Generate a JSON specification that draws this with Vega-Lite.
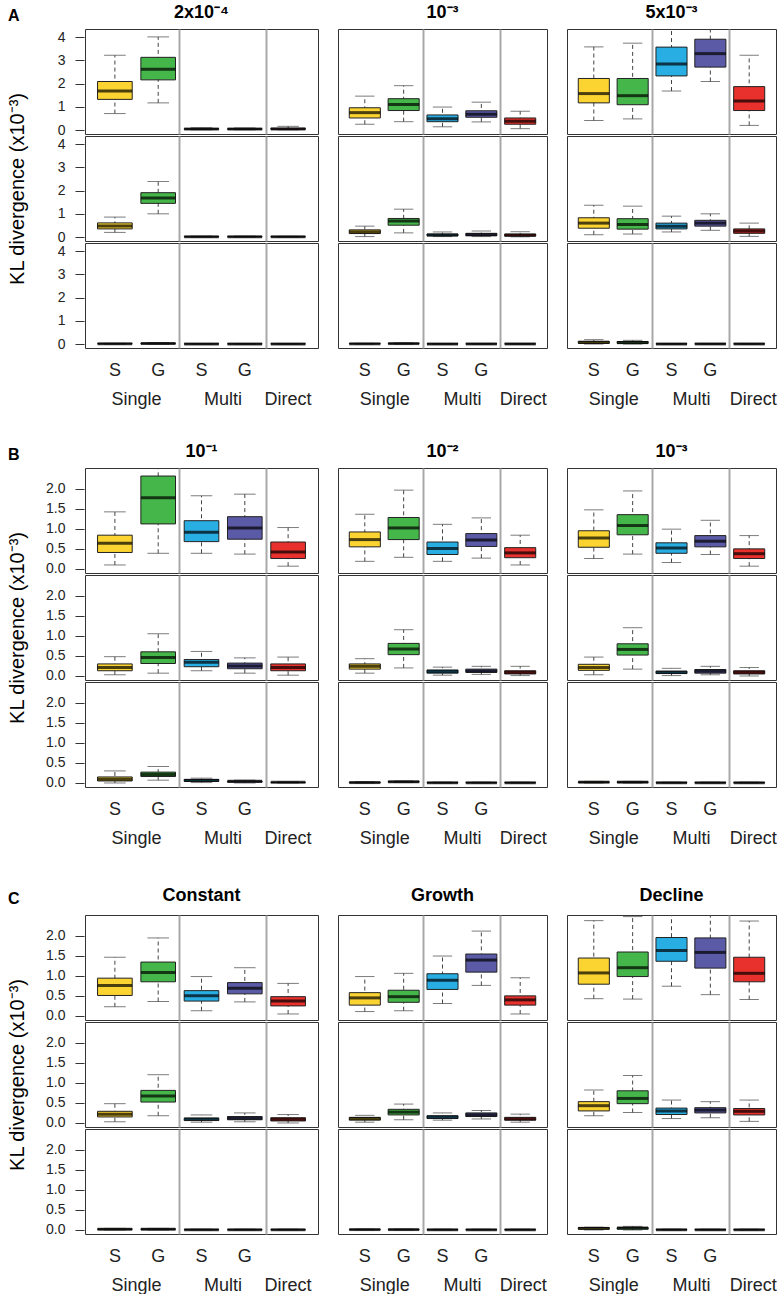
{
  "$schema": "https://vega.github.io/schema/vega-lite/v6.json",
  "padding": {"left": 7, "top": 4, "right": 0, "bottom": 0},
  "config": {
    "font": "Liberation Sans",
    "view": {"stroke": "#333", "strokeWidth": 1},
    "header": {"labelFont": "Liberation Sans", "titleFont": "Liberation Sans"}
  },
  "datasets": {
    "kl": [
      {"section":"A","cond":"2x10⁻⁴","row":1,"method":"Single S","lw":0.71,"q1":1.32,"median":1.68,"q3":2.09,"uw":3.22},
      {"section":"A","cond":"2x10⁻⁴","row":1,"method":"Single G","lw":1.17,"q1":2.16,"median":2.62,"q3":3.13,"uw":4.01},
      {"section":"A","cond":"2x10⁻⁴","row":1,"method":"Multi S","lw":0.01,"q1":0.03,"median":0.04,"q3":0.06,"uw":0.10},
      {"section":"A","cond":"2x10⁻⁴","row":1,"method":"Multi G","lw":0.01,"q1":0.03,"median":0.04,"q3":0.06,"uw":0.09},
      {"section":"A","cond":"2x10⁻⁴","row":1,"method":"Direct","lw":0.01,"q1":0.03,"median":0.05,"q3":0.08,"uw":0.16},
      {"section":"A","cond":"2x10⁻⁴","row":2,"method":"Single S","lw":0.20,"q1":0.35,"median":0.48,"q3":0.61,"uw":0.86},
      {"section":"A","cond":"2x10⁻⁴","row":2,"method":"Single G","lw":1.00,"q1":1.45,"median":1.68,"q3":1.91,"uw":2.39},
      {"section":"A","cond":"2x10⁻⁴","row":2,"method":"Multi S","lw":0,"q1":0.005,"median":0.01,"q3":0.02,"uw":0.04},
      {"section":"A","cond":"2x10⁻⁴","row":2,"method":"Multi G","lw":0,"q1":0.005,"median":0.01,"q3":0.02,"uw":0.04},
      {"section":"A","cond":"2x10⁻⁴","row":2,"method":"Direct","lw":0,"q1":0.005,"median":0.01,"q3":0.02,"uw":0.03},
      {"section":"A","cond":"2x10⁻⁴","row":3,"method":"Single S","lw":0,"q1":0.005,"median":0.01,"q3":0.02,"uw":0.03},
      {"section":"A","cond":"2x10⁻⁴","row":3,"method":"Single G","lw":0,"q1":0.01,"median":0.02,"q3":0.04,"uw":0.06},
      {"section":"A","cond":"2x10⁻⁴","row":3,"method":"Multi S","lw":0,"q1":0.002,"median":0.005,"q3":0.01,"uw":0.02},
      {"section":"A","cond":"2x10⁻⁴","row":3,"method":"Multi G","lw":0,"q1":0.002,"median":0.005,"q3":0.01,"uw":0.02},
      {"section":"A","cond":"2x10⁻⁴","row":3,"method":"Direct","lw":0,"q1":0.002,"median":0.005,"q3":0.01,"uw":0.02},

      {"section":"A","cond":"10⁻³","row":1,"method":"Single S","lw":0.25,"q1":0.52,"median":0.75,"q3":0.96,"uw":1.46},
      {"section":"A","cond":"10⁻³","row":1,"method":"Single G","lw":0.36,"q1":0.84,"median":1.10,"q3":1.35,"uw":1.91},
      {"section":"A","cond":"10⁻³","row":1,"method":"Multi S","lw":0.14,"q1":0.36,"median":0.49,"q3":0.65,"uw":0.99},
      {"section":"A","cond":"10⁻³","row":1,"method":"Multi G","lw":0.35,"q1":0.55,"median":0.68,"q3":0.83,"uw":1.20},
      {"section":"A","cond":"10⁻³","row":1,"method":"Direct","lw":0.06,"q1":0.25,"median":0.38,"q3":0.52,"uw":0.81},
      {"section":"A","cond":"10⁻³","row":2,"method":"Single S","lw":0.02,"q1":0.15,"median":0.22,"q3":0.31,"uw":0.47},
      {"section":"A","cond":"10⁻³","row":2,"method":"Single G","lw":0.18,"q1":0.51,"median":0.69,"q3":0.80,"uw":1.20},
      {"section":"A","cond":"10⁻³","row":2,"method":"Multi S","lw":0.02,"q1":0.05,"median":0.09,"q3":0.13,"uw":0.22},
      {"section":"A","cond":"10⁻³","row":2,"method":"Multi G","lw":0.02,"q1":0.06,"median":0.10,"q3":0.16,"uw":0.26},
      {"section":"A","cond":"10⁻³","row":2,"method":"Direct","lw":0.01,"q1":0.04,"median":0.08,"q3":0.13,"uw":0.23},
      {"section":"A","cond":"10⁻³","row":3,"method":"Single S","lw":0,"q1":0.005,"median":0.01,"q3":0.02,"uw":0.03},
      {"section":"A","cond":"10⁻³","row":3,"method":"Single G","lw":0,"q1":0.01,"median":0.02,"q3":0.03,"uw":0.05},
      {"section":"A","cond":"10⁻³","row":3,"method":"Multi S","lw":0,"q1":0.002,"median":0.005,"q3":0.01,"uw":0.02},
      {"section":"A","cond":"10⁻³","row":3,"method":"Multi G","lw":0,"q1":0.002,"median":0.005,"q3":0.01,"uw":0.02},
      {"section":"A","cond":"10⁻³","row":3,"method":"Direct","lw":0,"q1":0.002,"median":0.005,"q3":0.01,"uw":0.02},

      {"section":"A","cond":"5x10⁻³","row":1,"method":"Single S","lw":0.41,"q1":1.17,"median":1.57,"q3":2.22,"uw":3.58},
      {"section":"A","cond":"5x10⁻³","row":1,"method":"Single G","lw":0.48,"q1":1.09,"median":1.48,"q3":2.22,"uw":3.74},
      {"section":"A","cond":"5x10⁻³","row":1,"method":"Multi S","lw":1.68,"q1":2.33,"median":2.84,"q3":3.57,"uw":4.6},
      {"section":"A","cond":"5x10⁻³","row":1,"method":"Multi G","lw":2.09,"q1":2.71,"median":3.29,"q3":3.91,"uw":4.8},
      {"section":"A","cond":"5x10⁻³","row":1,"method":"Direct","lw":0.20,"q1":0.84,"median":1.25,"q3":1.87,"uw":3.22},
      {"section":"A","cond":"5x10⁻³","row":2,"method":"Single S","lw":0.10,"q1":0.38,"median":0.60,"q3":0.83,"uw":1.37},
      {"section":"A","cond":"5x10⁻³","row":2,"method":"Single G","lw":0.13,"q1":0.34,"median":0.54,"q3":0.79,"uw":1.33},
      {"section":"A","cond":"5x10⁻³","row":2,"method":"Multi S","lw":0.22,"q1":0.35,"median":0.47,"q3":0.60,"uw":0.90},
      {"section":"A","cond":"5x10⁻³","row":2,"method":"Multi G","lw":0.29,"q1":0.47,"median":0.60,"q3":0.72,"uw":1.00},
      {"section":"A","cond":"5x10⁻³","row":2,"method":"Direct","lw":0.03,"q1":0.16,"median":0.26,"q3":0.35,"uw":0.60},
      {"section":"A","cond":"5x10⁻³","row":3,"method":"Single S","lw":0,"q1":0.03,"median":0.07,"q3":0.12,"uw":0.19},
      {"section":"A","cond":"5x10⁻³","row":3,"method":"Single G","lw":0,"q1":0.03,"median":0.06,"q3":0.11,"uw":0.16},
      {"section":"A","cond":"5x10⁻³","row":3,"method":"Multi S","lw":0,"q1":0.002,"median":0.005,"q3":0.01,"uw":0.02},
      {"section":"A","cond":"5x10⁻³","row":3,"method":"Multi G","lw":0,"q1":0.002,"median":0.005,"q3":0.01,"uw":0.02},
      {"section":"A","cond":"5x10⁻³","row":3,"method":"Direct","lw":0,"q1":0.002,"median":0.005,"q3":0.01,"uw":0.02},

      {"section":"B","cond":"10⁻¹","row":1,"method":"Single S","lw":0.10,"q1":0.41,"median":0.64,"q3":0.84,"uw":1.42},
      {"section":"B","cond":"10⁻¹","row":1,"method":"Single G","lw":0.39,"q1":1.12,"median":1.77,"q3":2.31,"uw":2.7},
      {"section":"B","cond":"10⁻¹","row":1,"method":"Multi S","lw":0.39,"q1":0.68,"median":0.91,"q3":1.20,"uw":1.82},
      {"section":"B","cond":"10⁻¹","row":1,"method":"Multi G","lw":0.37,"q1":0.74,"median":1.02,"q3":1.30,"uw":1.86},
      {"section":"B","cond":"10⁻¹","row":1,"method":"Direct","lw":0.07,"q1":0.26,"median":0.42,"q3":0.67,"uw":1.03},
      {"section":"B","cond":"10⁻¹","row":2,"method":"Single S","lw":0.03,"q1":0.13,"median":0.21,"q3":0.30,"uw":0.48},
      {"section":"B","cond":"10⁻¹","row":2,"method":"Single G","lw":0.07,"q1":0.31,"median":0.46,"q3":0.60,"uw":1.05},
      {"section":"B","cond":"10⁻¹","row":2,"method":"Multi S","lw":0.13,"q1":0.23,"median":0.34,"q3":0.41,"uw":0.61},
      {"section":"B","cond":"10⁻¹","row":2,"method":"Multi G","lw":0.07,"q1":0.18,"median":0.25,"q3":0.32,"uw":0.45},
      {"section":"B","cond":"10⁻¹","row":2,"method":"Direct","lw":0.02,"q1":0.13,"median":0.21,"q3":0.30,"uw":0.47},
      {"section":"B","cond":"10⁻¹","row":3,"method":"Single S","lw":0,"q1":0.05,"median":0.09,"q3":0.15,"uw":0.30},
      {"section":"B","cond":"10⁻¹","row":3,"method":"Single G","lw":0.07,"q1":0.16,"median":0.21,"q3":0.27,"uw":0.41},
      {"section":"B","cond":"10⁻¹","row":3,"method":"Multi S","lw":0.01,"q1":0.04,"median":0.06,"q3":0.09,"uw":0.12},
      {"section":"B","cond":"10⁻¹","row":3,"method":"Multi G","lw":0,"q1":0.02,"median":0.04,"q3":0.05,"uw":0.07},
      {"section":"B","cond":"10⁻¹","row":3,"method":"Direct","lw":0,"q1":0.01,"median":0.015,"q3":0.02,"uw":0.03},

      {"section":"B","cond":"10⁻²","row":1,"method":"Single S","lw":0.19,"q1":0.55,"median":0.73,"q3":0.92,"uw":1.36},
      {"section":"B","cond":"10⁻²","row":1,"method":"Single G","lw":0.29,"q1":0.73,"median":1.02,"q3":1.28,"uw":1.96},
      {"section":"B","cond":"10⁻²","row":1,"method":"Multi S","lw":0.19,"q1":0.36,"median":0.51,"q3":0.67,"uw":1.11},
      {"section":"B","cond":"10⁻²","row":1,"method":"Multi G","lw":0.27,"q1":0.56,"median":0.72,"q3":0.88,"uw":1.27},
      {"section":"B","cond":"10⁻²","row":1,"method":"Direct","lw":0.10,"q1":0.28,"median":0.40,"q3":0.53,"uw":0.84},
      {"section":"B","cond":"10⁻²","row":2,"method":"Single S","lw":0.07,"q1":0.17,"median":0.24,"q3":0.30,"uw":0.43},
      {"section":"B","cond":"10⁻²","row":2,"method":"Single G","lw":0.20,"q1":0.53,"median":0.67,"q3":0.81,"uw":1.15},
      {"section":"B","cond":"10⁻²","row":2,"method":"Multi S","lw":0.02,"q1":0.07,"median":0.11,"q3":0.15,"uw":0.22},
      {"section":"B","cond":"10⁻²","row":2,"method":"Multi G","lw":0.04,"q1":0.09,"median":0.12,"q3":0.17,"uw":0.24},
      {"section":"B","cond":"10⁻²","row":2,"method":"Direct","lw":0.01,"q1":0.05,"median":0.09,"q3":0.13,"uw":0.24},
      {"section":"B","cond":"10⁻²","row":3,"method":"Single S","lw":0,"q1":0.005,"median":0.01,"q3":0.02,"uw":0.03},
      {"section":"B","cond":"10⁻²","row":3,"method":"Single G","lw":0.01,"q1":0.02,"median":0.03,"q3":0.04,"uw":0.05},
      {"section":"B","cond":"10⁻²","row":3,"method":"Multi S","lw":0,"q1":0.002,"median":0.005,"q3":0.01,"uw":0.02},
      {"section":"B","cond":"10⁻²","row":3,"method":"Multi G","lw":0,"q1":0.002,"median":0.005,"q3":0.01,"uw":0.02},
      {"section":"B","cond":"10⁻²","row":3,"method":"Direct","lw":0,"q1":0.002,"median":0.005,"q3":0.01,"uw":0.02},

      {"section":"B","cond":"10⁻³","row":1,"method":"Single S","lw":0.26,"q1":0.54,"median":0.77,"q3":0.95,"uw":1.47},
      {"section":"B","cond":"10⁻³","row":1,"method":"Single G","lw":0.37,"q1":0.85,"median":1.08,"q3":1.35,"uw":1.94},
      {"section":"B","cond":"10⁻³","row":1,"method":"Multi S","lw":0.16,"q1":0.39,"median":0.52,"q3":0.65,"uw":0.99},
      {"section":"B","cond":"10⁻³","row":1,"method":"Multi G","lw":0.36,"q1":0.55,"median":0.69,"q3":0.83,"uw":1.21},
      {"section":"B","cond":"10⁻³","row":1,"method":"Direct","lw":0.07,"q1":0.26,"median":0.38,"q3":0.50,"uw":0.83},
      {"section":"B","cond":"10⁻³","row":2,"method":"Single S","lw":0.03,"q1":0.14,"median":0.21,"q3":0.29,"uw":0.47},
      {"section":"B","cond":"10⁻³","row":2,"method":"Single G","lw":0.17,"q1":0.52,"median":0.66,"q3":0.80,"uw":1.20},
      {"section":"B","cond":"10⁻³","row":2,"method":"Multi S","lw":0.01,"q1":0.06,"median":0.09,"q3":0.12,"uw":0.19},
      {"section":"B","cond":"10⁻³","row":2,"method":"Multi G","lw":0.03,"q1":0.07,"median":0.12,"q3":0.16,"uw":0.24},
      {"section":"B","cond":"10⁻³","row":2,"method":"Direct","lw":0,"q1":0.05,"median":0.09,"q3":0.13,"uw":0.21},
      {"section":"B","cond":"10⁻³","row":3,"method":"Single S","lw":0,"q1":0.01,"median":0.02,"q3":0.03,"uw":0.04},
      {"section":"B","cond":"10⁻³","row":3,"method":"Single G","lw":0,"q1":0.01,"median":0.02,"q3":0.03,"uw":0.04},
      {"section":"B","cond":"10⁻³","row":3,"method":"Multi S","lw":0,"q1":0.002,"median":0.005,"q3":0.01,"uw":0.02},
      {"section":"B","cond":"10⁻³","row":3,"method":"Multi G","lw":0,"q1":0.002,"median":0.005,"q3":0.01,"uw":0.02},
      {"section":"B","cond":"10⁻³","row":3,"method":"Direct","lw":0,"q1":0.002,"median":0.005,"q3":0.01,"uw":0.02},

      {"section":"C","cond":"Constant","row":1,"method":"Single S","lw":0.23,"q1":0.51,"median":0.76,"q3":0.94,"uw":1.46},
      {"section":"C","cond":"Constant","row":1,"method":"Single G","lw":0.36,"q1":0.85,"median":1.08,"q3":1.34,"uw":1.94},
      {"section":"C","cond":"Constant","row":1,"method":"Multi S","lw":0.13,"q1":0.37,"median":0.50,"q3":0.63,"uw":0.98},
      {"section":"C","cond":"Constant","row":1,"method":"Multi G","lw":0.35,"q1":0.55,"median":0.69,"q3":0.83,"uw":1.20},
      {"section":"C","cond":"Constant","row":1,"method":"Direct","lw":0.05,"q1":0.25,"median":0.37,"q3":0.48,"uw":0.81},
      {"section":"C","cond":"Constant","row":2,"method":"Single S","lw":0.03,"q1":0.15,"median":0.22,"q3":0.29,"uw":0.48},
      {"section":"C","cond":"Constant","row":2,"method":"Single G","lw":0.18,"q1":0.52,"median":0.67,"q3":0.81,"uw":1.20},
      {"section":"C","cond":"Constant","row":2,"method":"Multi S","lw":0.02,"q1":0.06,"median":0.10,"q3":0.12,"uw":0.20},
      {"section":"C","cond":"Constant","row":2,"method":"Multi G","lw":0.03,"q1":0.08,"median":0.12,"q3":0.16,"uw":0.25},
      {"section":"C","cond":"Constant","row":2,"method":"Direct","lw":0,"q1":0.05,"median":0.09,"q3":0.13,"uw":0.21},
      {"section":"C","cond":"Constant","row":3,"method":"Single S","lw":0,"q1":0.01,"median":0.02,"q3":0.03,"uw":0.04},
      {"section":"C","cond":"Constant","row":3,"method":"Single G","lw":0,"q1":0.01,"median":0.02,"q3":0.03,"uw":0.04},
      {"section":"C","cond":"Constant","row":3,"method":"Multi S","lw":0,"q1":0.002,"median":0.005,"q3":0.01,"uw":0.02},
      {"section":"C","cond":"Constant","row":3,"method":"Multi G","lw":0,"q1":0.002,"median":0.005,"q3":0.01,"uw":0.02},
      {"section":"C","cond":"Constant","row":3,"method":"Direct","lw":0,"q1":0.002,"median":0.005,"q3":0.01,"uw":0.02},

      {"section":"C","cond":"Growth","row":1,"method":"Single S","lw":0.11,"q1":0.27,"median":0.45,"q3":0.58,"uw":0.98},
      {"section":"C","cond":"Growth","row":1,"method":"Single G","lw":0.13,"q1":0.34,"median":0.48,"q3":0.64,"uw":1.06},
      {"section":"C","cond":"Growth","row":1,"method":"Multi S","lw":0.31,"q1":0.66,"median":0.89,"q3":1.05,"uw":1.49},
      {"section":"C","cond":"Growth","row":1,"method":"Multi G","lw":0.76,"q1":1.09,"median":1.39,"q3":1.54,"uw":2.11},
      {"section":"C","cond":"Growth","row":1,"method":"Direct","lw":0.05,"q1":0.27,"median":0.40,"q3":0.50,"uw":0.95},
      {"section":"C","cond":"Growth","row":2,"method":"Single S","lw":0.02,"q1":0.07,"median":0.11,"q3":0.14,"uw":0.19},
      {"section":"C","cond":"Growth","row":2,"method":"Single G","lw":0.08,"q1":0.20,"median":0.27,"q3":0.34,"uw":0.47},
      {"section":"C","cond":"Growth","row":2,"method":"Multi S","lw":0.07,"q1":0.11,"median":0.15,"q3":0.18,"uw":0.25},
      {"section":"C","cond":"Growth","row":2,"method":"Multi G","lw":0.10,"q1":0.16,"median":0.20,"q3":0.25,"uw":0.31},
      {"section":"C","cond":"Growth","row":2,"method":"Direct","lw":0.02,"q1":0.07,"median":0.10,"q3":0.14,"uw":0.22},
      {"section":"C","cond":"Growth","row":3,"method":"Single S","lw":0,"q1":0.005,"median":0.01,"q3":0.015,"uw":0.02},
      {"section":"C","cond":"Growth","row":3,"method":"Single G","lw":0,"q1":0.005,"median":0.01,"q3":0.015,"uw":0.02},
      {"section":"C","cond":"Growth","row":3,"method":"Multi S","lw":0,"q1":0.002,"median":0.005,"q3":0.01,"uw":0.02},
      {"section":"C","cond":"Growth","row":3,"method":"Multi G","lw":0,"q1":0.002,"median":0.005,"q3":0.01,"uw":0.02},
      {"section":"C","cond":"Growth","row":3,"method":"Direct","lw":0,"q1":0.002,"median":0.005,"q3":0.01,"uw":0.02},

      {"section":"C","cond":"Decline","row":1,"method":"Single S","lw":0.43,"q1":0.79,"median":1.07,"q3":1.44,"uw":2.37},
      {"section":"C","cond":"Decline","row":1,"method":"Single G","lw":0.42,"q1":0.98,"median":1.20,"q3":1.59,"uw":2.47},
      {"section":"C","cond":"Decline","row":1,"method":"Multi S","lw":0.74,"q1":1.36,"median":1.63,"q3":1.95,"uw":2.7},
      {"section":"C","cond":"Decline","row":1,"method":"Multi G","lw":0.53,"q1":1.19,"median":1.58,"q3":1.94,"uw":2.7},
      {"section":"C","cond":"Decline","row":1,"method":"Direct","lw":0.41,"q1":0.85,"median":1.06,"q3":1.46,"uw":2.36},
      {"section":"C","cond":"Decline","row":2,"method":"Single S","lw":0.18,"q1":0.30,"median":0.43,"q3":0.53,"uw":0.82},
      {"section":"C","cond":"Decline","row":2,"method":"Single G","lw":0.26,"q1":0.48,"median":0.61,"q3":0.80,"uw":1.18},
      {"section":"C","cond":"Decline","row":2,"method":"Multi S","lw":0.11,"q1":0.21,"median":0.30,"q3":0.37,"uw":0.57},
      {"section":"C","cond":"Decline","row":2,"method":"Multi G","lw":0.13,"q1":0.25,"median":0.32,"q3":0.38,"uw":0.53},
      {"section":"C","cond":"Decline","row":2,"method":"Direct","lw":0.04,"q1":0.20,"median":0.29,"q3":0.36,"uw":0.57},
      {"section":"C","cond":"Decline","row":3,"method":"Single S","lw":0,"q1":0.02,"median":0.04,"q3":0.06,"uw":0.07},
      {"section":"C","cond":"Decline","row":3,"method":"Single G","lw":0,"q1":0.02,"median":0.05,"q3":0.06,"uw":0.09},
      {"section":"C","cond":"Decline","row":3,"method":"Multi S","lw":0,"q1":0.002,"median":0.005,"q3":0.01,"uw":0.02},
      {"section":"C","cond":"Decline","row":3,"method":"Multi G","lw":0,"q1":0.002,"median":0.005,"q3":0.01,"uw":0.02},
      {"section":"C","cond":"Decline","row":3,"method":"Direct","lw":0,"q1":0.002,"median":0.005,"q3":0.01,"uw":0.02}
    ]
  },
  "spacing": 35,
  "vconcat": [
    {
      "title": {"text": "A", "anchor": "start", "fontSize": 16, "fontWeight": "bold", "offset": -20},
      "spacing": 18,
      "hconcat": [
        {
          "data": {"name": "kl"},
          "transform": [{"filter": "datum.section == 'A' && datum.cond == '2x10⁻⁴'"}],
          "facet": {
            "row": {"field": "row", "type": "ordinal", "header": {"labels": false, "title": "KL divergence (x10⁻³)", "titleFontSize": 20, "titleFontWeight": "normal", "titlePadding": 7}},
            "column": {"field": "cond", "type": "nominal", "header": {"title": null, "labelFontSize": 18, "labelFontWeight": "bold", "labelPadding": 6}}
          },
          "spacing": {"row": 0, "column": 0},
          "spec": {
            "width": 233, "height": 105,
            "encoding": {"x": {"field": "method", "type": "nominal", "scale": {"domain": ["Single S","Single G","Multi S","Multi G","Direct"], "paddingInner": 0, "paddingOuter": 0.19}, "axis": null}},
            "layer": [
              {"mark": {"type": "rule", "strokeDash": [4,3], "color": "#444", "clip": true},
               "encoding": {
                 "x": {"field": "method", "type": "nominal", "scale": {"domain": ["Single S","Single G","Multi S","Multi G","Direct"], "paddingInner": 0, "paddingOuter": 0.19},
                       "axis": {"orient": "bottom", "title": null, "ticks": false, "domain": false, "grid": false, "labelAngle": 0, "labelFontSize": 18, "labelPadding": 12, "labelColor": "#222", "labelExpr": "datum.value == 'Direct' ? '' : (indexof(datum.value, ' S') > 0 ? 'S' : 'G')"}},
                 "y": {"field": "lw", "type": "quantitative", "scale": {"domain": [-0.17, 4.35], "nice": false, "zero": false}, "axis": {"title": null, "values": [0,1,2,3,4], "tickSize": 9, "labelPadding": 10, "labelFontSize": 14, "domain": false, "grid": false, "tickColor": "#333", "labelColor": "#222", "minExtent": 39}},
                 "y2": {"field": "uw"}}},
              {"mark": {"type": "tick", "color": "#444", "thickness": 1, "size": 21.6, "clip": true},
               "encoding": {"y": {"field": "lw", "type": "quantitative", "scale": {"domain": [-0.17, 4.35], "nice": false, "zero": false}, "axis": {"title": null, "values": [0,1,2,3,4], "tickSize": 9, "labelPadding": 10, "labelFontSize": 14, "domain": false, "grid": false, "tickColor": "#333", "labelColor": "#222", "minExtent": 39}}}},
              {"mark": {"type": "tick", "color": "#444", "thickness": 1, "size": 21.6, "clip": true},
               "encoding": {
                 "x": {"field": "method", "type": "nominal", "scale": {"domain": ["Single S","Single G","Multi S","Multi G","Direct"], "paddingInner": 0, "paddingOuter": 0.19},
                       "axis": {"orient": "bottom", "title": null, "ticks": false, "domain": false, "grid": true, "bandPosition": 0, "gridColor": "#a8a8a8", "gridWidth": 2, "gridOpacity": {"condition": {"test": "datum.value == 'Multi S' || datum.value == 'Direct'", "value": 1}, "value": 0}, "labelAngle": 0, "labelFontSize": 18, "labelPadding": 41, "labelColor": "#222", "labelOffset": {"condition": {"test": "datum.value == 'Single S' || datum.value == 'Multi S'", "value": 21.6}, "value": 0}, "labelExpr": "datum.value == 'Single S' ? 'Single' : datum.value == 'Multi S' ? 'Multi' : datum.value == 'Direct' ? 'Direct' : ''"}},
                 "y": {"field": "uw", "type": "quantitative", "scale": {"domain": [-0.17, 4.35], "nice": false, "zero": false}, "axis": {"title": null, "values": [0,1,2,3,4], "tickSize": 9, "labelPadding": 10, "labelFontSize": 14, "domain": false, "grid": false, "tickColor": "#333", "labelColor": "#222", "minExtent": 39}}}},
              {"mark": {"type": "bar", "width": {"band": 0.8}, "stroke": "#222", "strokeWidth": 1, "clip": true},
               "encoding": {
                 "y": {"field": "q1", "type": "quantitative", "scale": {"domain": [-0.17, 4.35], "nice": false, "zero": false}, "axis": {"title": null, "values": [0,1,2,3,4], "tickSize": 9, "labelPadding": 10, "labelFontSize": 14, "domain": false, "grid": false, "tickColor": "#333", "labelColor": "#222", "minExtent": 39}},
                 "y2": {"field": "q3"},
                 "color": {"field": "method", "type": "nominal", "scale": {"domain": ["Single S","Single G","Multi S","Multi G","Direct"], "range": ["#FBD431","#45B649","#28AEE3","#5B5AA6","#E8302C"]}, "legend": null}}},
              {"mark": {"type": "tick", "color": "#000", "thickness": 3, "size": 34.6, "clip": true},
               "encoding": {"y": {"field": "median", "type": "quantitative", "scale": {"domain": [-0.17, 4.35], "nice": false, "zero": false}, "axis": {"title": null, "values": [0,1,2,3,4], "tickSize": 9, "labelPadding": 10, "labelFontSize": 14, "domain": false, "grid": false, "tickColor": "#333", "labelColor": "#222", "minExtent": 39}}}}
            ],
            "resolve": {"axis": {"x": "independent"}}
          }
        },
        {
          "data": {"name": "kl"},
          "transform": [{"filter": "datum.section == 'A' && datum.cond == '10⁻³'"}],
          "facet": {
            "row": {"field": "row", "type": "ordinal", "header": {"labels": false, "title": null}},
            "column": {"field": "cond", "type": "nominal", "header": {"title": null, "labelFontSize": 18, "labelFontWeight": "bold", "labelPadding": 6}}
          },
          "spacing": {"row": 0, "column": 0},
          "spec": {
            "width": 209, "height": 105,
            "encoding": {"x": {"field": "method", "type": "nominal", "scale": {"domain": ["Single S","Single G","Multi S","Multi G","Direct"], "paddingInner": 0, "paddingOuter": 0.19}, "axis": null}},
            "layer": [
              {"mark": {"type": "rule", "strokeDash": [4,3], "color": "#444", "clip": true},
               "encoding": {
                 "x": {"field": "method", "type": "nominal", "scale": {"domain": ["Single S","Single G","Multi S","Multi G","Direct"], "paddingInner": 0, "paddingOuter": 0.19},
                       "axis": {"orient": "bottom", "title": null, "ticks": false, "domain": false, "grid": false, "labelAngle": 0, "labelFontSize": 18, "labelPadding": 12, "labelColor": "#222", "labelExpr": "datum.value == 'Direct' ? '' : (indexof(datum.value, ' S') > 0 ? 'S' : 'G')"}},
                 "y": {"field": "lw", "type": "quantitative", "scale": {"domain": [-0.17, 4.35], "nice": false, "zero": false}, "axis": null},
                 "y2": {"field": "uw"}}},
              {"mark": {"type": "tick", "color": "#444", "thickness": 1, "size": 19.4, "clip": true},
               "encoding": {"y": {"field": "lw", "type": "quantitative", "scale": {"domain": [-0.17, 4.35], "nice": false, "zero": false}, "axis": null}}},
              {"mark": {"type": "tick", "color": "#444", "thickness": 1, "size": 19.4, "clip": true},
               "encoding": {
                 "x": {"field": "method", "type": "nominal", "scale": {"domain": ["Single S","Single G","Multi S","Multi G","Direct"], "paddingInner": 0, "paddingOuter": 0.19},
                       "axis": {"orient": "bottom", "title": null, "ticks": false, "domain": false, "grid": true, "bandPosition": 0, "gridColor": "#a8a8a8", "gridWidth": 2, "gridOpacity": {"condition": {"test": "datum.value == 'Multi S' || datum.value == 'Direct'", "value": 1}, "value": 0}, "labelAngle": 0, "labelFontSize": 18, "labelPadding": 41, "labelColor": "#222", "labelOffset": {"condition": {"test": "datum.value == 'Single S' || datum.value == 'Multi S'", "value": 19.9}, "value": 3}, "labelExpr": "datum.value == 'Single S' ? 'Single' : datum.value == 'Multi S' ? 'Multi' : datum.value == 'Direct' ? 'Direct' : ''"}},
                 "y": {"field": "uw", "type": "quantitative", "scale": {"domain": [-0.17, 4.35], "nice": false, "zero": false}, "axis": null}}},
              {"mark": {"type": "bar", "width": {"band": 0.8}, "stroke": "#222", "strokeWidth": 1, "clip": true},
               "encoding": {
                 "y": {"field": "q1", "type": "quantitative", "scale": {"domain": [-0.17, 4.35], "nice": false, "zero": false}, "axis": null},
                 "y2": {"field": "q3"},
                 "color": {"field": "method", "type": "nominal", "scale": {"domain": ["Single S","Single G","Multi S","Multi G","Direct"], "range": ["#FBD431","#45B649","#28AEE3","#5B5AA6","#E8302C"]}, "legend": null}}},
              {"mark": {"type": "tick", "color": "#000", "thickness": 3, "size": 31.1, "clip": true},
               "encoding": {"y": {"field": "median", "type": "quantitative", "scale": {"domain": [-0.17, 4.35], "nice": false, "zero": false}, "axis": null}}}
            ],
            "resolve": {"axis": {"x": "independent"}}
          }
        },
        {
          "data": {"name": "kl"},
          "transform": [{"filter": "datum.section == 'A' && datum.cond == '5x10⁻³'"}],
          "facet": {
            "row": {"field": "row", "type": "ordinal", "header": {"labels": false, "title": null}},
            "column": {"field": "cond", "type": "nominal", "header": {"title": null, "labelFontSize": 18, "labelFontWeight": "bold", "labelPadding": 6}}
          },
          "spacing": {"row": 0, "column": 0},
          "spec": {
            "width": 209, "height": 105,
            "encoding": {"x": {"field": "method", "type": "nominal", "scale": {"domain": ["Single S","Single G","Multi S","Multi G","Direct"], "paddingInner": 0, "paddingOuter": 0.19}, "axis": null}},
            "layer": [
              {"mark": {"type": "rule", "strokeDash": [4,3], "color": "#444", "clip": true},
               "encoding": {
                 "x": {"field": "method", "type": "nominal", "scale": {"domain": ["Single S","Single G","Multi S","Multi G","Direct"], "paddingInner": 0, "paddingOuter": 0.19},
                       "axis": {"orient": "bottom", "title": null, "ticks": false, "domain": false, "grid": false, "labelAngle": 0, "labelFontSize": 18, "labelPadding": 12, "labelColor": "#222", "labelExpr": "datum.value == 'Direct' ? '' : (indexof(datum.value, ' S') > 0 ? 'S' : 'G')"}},
                 "y": {"field": "lw", "type": "quantitative", "scale": {"domain": [-0.17, 4.35], "nice": false, "zero": false}, "axis": null},
                 "y2": {"field": "uw"}}},
              {"mark": {"type": "tick", "color": "#444", "thickness": 1, "size": 19.4, "clip": true},
               "encoding": {"y": {"field": "lw", "type": "quantitative", "scale": {"domain": [-0.17, 4.35], "nice": false, "zero": false}, "axis": null}}},
              {"mark": {"type": "tick", "color": "#444", "thickness": 1, "size": 19.4, "clip": true},
               "encoding": {
                 "x": {"field": "method", "type": "nominal", "scale": {"domain": ["Single S","Single G","Multi S","Multi G","Direct"], "paddingInner": 0, "paddingOuter": 0.19},
                       "axis": {"orient": "bottom", "title": null, "ticks": false, "domain": false, "grid": true, "bandPosition": 0, "gridColor": "#a8a8a8", "gridWidth": 2, "gridOpacity": {"condition": {"test": "datum.value == 'Multi S' || datum.value == 'Direct'", "value": 1}, "value": 0}, "labelAngle": 0, "labelFontSize": 18, "labelPadding": 41, "labelColor": "#222", "labelOffset": {"condition": {"test": "datum.value == 'Single S' || datum.value == 'Multi S'", "value": 19.9}, "value": 4}, "labelExpr": "datum.value == 'Single S' ? 'Single' : datum.value == 'Multi S' ? 'Multi' : datum.value == 'Direct' ? 'Direct' : ''"}},
                 "y": {"field": "uw", "type": "quantitative", "scale": {"domain": [-0.17, 4.35], "nice": false, "zero": false}, "axis": null}}},
              {"mark": {"type": "bar", "width": {"band": 0.8}, "stroke": "#222", "strokeWidth": 1, "clip": true},
               "encoding": {
                 "y": {"field": "q1", "type": "quantitative", "scale": {"domain": [-0.17, 4.35], "nice": false, "zero": false}, "axis": null},
                 "y2": {"field": "q3"},
                 "color": {"field": "method", "type": "nominal", "scale": {"domain": ["Single S","Single G","Multi S","Multi G","Direct"], "range": ["#FBD431","#45B649","#28AEE3","#5B5AA6","#E8302C"]}, "legend": null}}},
              {"mark": {"type": "tick", "color": "#000", "thickness": 3, "size": 31.1, "clip": true},
               "encoding": {"y": {"field": "median", "type": "quantitative", "scale": {"domain": [-0.17, 4.35], "nice": false, "zero": false}, "axis": null}}}
            ],
            "resolve": {"axis": {"x": "independent"}}
          }
        }
      ]
    },
    {
      "spacing": 40,
      "vconcat": [
        {
          "title": {"text": "B", "anchor": "start", "fontSize": 16, "fontWeight": "bold", "offset": -20},
          "spacing": 18,
          "hconcat": [
            {
              "data": {"name": "kl"},
              "transform": [{"filter": "datum.section == 'B' && datum.cond == '10⁻¹'"}],
              "facet": {
                "row": {"field": "row", "type": "ordinal", "header": {"labels": false, "title": "KL divergence (x10⁻³)", "titleFontSize": 20, "titleFontWeight": "normal", "titlePadding": 7}},
                "column": {"field": "cond", "type": "nominal", "header": {"title": null, "labelFontSize": 18, "labelFontWeight": "bold", "labelPadding": 6}}
              },
              "spacing": {"row": 0, "column": 0},
              "spec": {
                "width": 233, "height": 105,
                "encoding": {"x": {"field": "method", "type": "nominal", "scale": {"domain": ["Single S","Single G","Multi S","Multi G","Direct"], "paddingInner": 0, "paddingOuter": 0.19}, "axis": null}},
                "layer": [
                  {"mark": {"type": "rule", "strokeDash": [4,3], "color": "#444", "clip": true},
                   "encoding": {
                     "x": {"field": "method", "type": "nominal", "scale": {"domain": ["Single S","Single G","Multi S","Multi G","Direct"], "paddingInner": 0, "paddingOuter": 0.19},
                           "axis": {"orient": "bottom", "title": null, "ticks": false, "domain": false, "grid": false, "labelAngle": 0, "labelFontSize": 18, "labelPadding": 12, "labelColor": "#222", "labelExpr": "datum.value == 'Direct' ? '' : (indexof(datum.value, ' S') > 0 ? 'S' : 'G')"}},
                     "y": {"field": "lw", "type": "quantitative", "scale": {"domain": [-0.1, 2.51], "nice": false, "zero": false}, "axis": {"title": null, "values": [0,0.5,1,1.5,2], "format": ".1f", "tickSize": 9, "labelPadding": 10, "labelFontSize": 14, "domain": false, "grid": false, "tickColor": "#333", "labelColor": "#222", "minExtent": 39}},
                     "y2": {"field": "uw"}}},
                  {"mark": {"type": "tick", "color": "#444", "thickness": 1, "size": 21.6, "clip": true},
                   "encoding": {"y": {"field": "lw", "type": "quantitative", "scale": {"domain": [-0.1, 2.51], "nice": false, "zero": false}, "axis": {"title": null, "values": [0,0.5,1,1.5,2], "format": ".1f", "tickSize": 9, "labelPadding": 10, "labelFontSize": 14, "domain": false, "grid": false, "tickColor": "#333", "labelColor": "#222", "minExtent": 39}}}},
                  {"mark": {"type": "tick", "color": "#444", "thickness": 1, "size": 21.6, "clip": true},
                   "encoding": {
                     "x": {"field": "method", "type": "nominal", "scale": {"domain": ["Single S","Single G","Multi S","Multi G","Direct"], "paddingInner": 0, "paddingOuter": 0.19},
                           "axis": {"orient": "bottom", "title": null, "ticks": false, "domain": false, "grid": true, "bandPosition": 0, "gridColor": "#a8a8a8", "gridWidth": 2, "gridOpacity": {"condition": {"test": "datum.value == 'Multi S' || datum.value == 'Direct'", "value": 1}, "value": 0}, "labelAngle": 0, "labelFontSize": 18, "labelPadding": 41, "labelColor": "#222", "labelOffset": {"condition": {"test": "datum.value == 'Single S' || datum.value == 'Multi S'", "value": 21.6}, "value": 0}, "labelExpr": "datum.value == 'Single S' ? 'Single' : datum.value == 'Multi S' ? 'Multi' : datum.value == 'Direct' ? 'Direct' : ''"}},
                     "y": {"field": "uw", "type": "quantitative", "scale": {"domain": [-0.1, 2.51], "nice": false, "zero": false}, "axis": {"title": null, "values": [0,0.5,1,1.5,2], "format": ".1f", "tickSize": 9, "labelPadding": 10, "labelFontSize": 14, "domain": false, "grid": false, "tickColor": "#333", "labelColor": "#222", "minExtent": 39}}}},
                  {"mark": {"type": "bar", "width": {"band": 0.8}, "stroke": "#222", "strokeWidth": 1, "clip": true},
                   "encoding": {
                     "y": {"field": "q1", "type": "quantitative", "scale": {"domain": [-0.1, 2.51], "nice": false, "zero": false}, "axis": {"title": null, "values": [0,0.5,1,1.5,2], "format": ".1f", "tickSize": 9, "labelPadding": 10, "labelFontSize": 14, "domain": false, "grid": false, "tickColor": "#333", "labelColor": "#222", "minExtent": 39}},
                     "y2": {"field": "q3"},
                     "color": {"field": "method", "type": "nominal", "scale": {"domain": ["Single S","Single G","Multi S","Multi G","Direct"], "range": ["#FBD431","#45B649","#28AEE3","#5B5AA6","#E8302C"]}, "legend": null}}},
                  {"mark": {"type": "tick", "color": "#000", "thickness": 3, "size": 34.6, "clip": true},
                   "encoding": {"y": {"field": "median", "type": "quantitative", "scale": {"domain": [-0.1, 2.51], "nice": false, "zero": false}, "axis": {"title": null, "values": [0,0.5,1,1.5,2], "format": ".1f", "tickSize": 9, "labelPadding": 10, "labelFontSize": 14, "domain": false, "grid": false, "tickColor": "#333", "labelColor": "#222", "minExtent": 39}}}}
                ],
                "resolve": {"axis": {"x": "independent"}}
              }
            },
            {
              "data": {"name": "kl"},
              "transform": [{"filter": "datum.section == 'B' && datum.cond == '10⁻²'"}],
              "facet": {
                "row": {"field": "row", "type": "ordinal", "header": {"labels": false, "title": null}},
                "column": {"field": "cond", "type": "nominal", "header": {"title": null, "labelFontSize": 18, "labelFontWeight": "bold", "labelPadding": 6}}
              },
              "spacing": {"row": 0, "column": 0},
              "spec": {
                "width": 209, "height": 105,
                "encoding": {"x": {"field": "method", "type": "nominal", "scale": {"domain": ["Single S","Single G","Multi S","Multi G","Direct"], "paddingInner": 0, "paddingOuter": 0.19}, "axis": null}},
                "layer": [
                  {"mark": {"type": "rule", "strokeDash": [4,3], "color": "#444", "clip": true},
                   "encoding": {
                     "x": {"field": "method", "type": "nominal", "scale": {"domain": ["Single S","Single G","Multi S","Multi G","Direct"], "paddingInner": 0, "paddingOuter": 0.19},
                           "axis": {"orient": "bottom", "title": null, "ticks": false, "domain": false, "grid": false, "labelAngle": 0, "labelFontSize": 18, "labelPadding": 12, "labelColor": "#222", "labelExpr": "datum.value == 'Direct' ? '' : (indexof(datum.value, ' S') > 0 ? 'S' : 'G')"}},
                     "y": {"field": "lw", "type": "quantitative", "scale": {"domain": [-0.1, 2.51], "nice": false, "zero": false}, "axis": null},
                     "y2": {"field": "uw"}}},
                  {"mark": {"type": "tick", "color": "#444", "thickness": 1, "size": 19.4, "clip": true},
                   "encoding": {"y": {"field": "lw", "type": "quantitative", "scale": {"domain": [-0.1, 2.51], "nice": false, "zero": false}, "axis": null}}},
                  {"mark": {"type": "tick", "color": "#444", "thickness": 1, "size": 19.4, "clip": true},
                   "encoding": {
                     "x": {"field": "method", "type": "nominal", "scale": {"domain": ["Single S","Single G","Multi S","Multi G","Direct"], "paddingInner": 0, "paddingOuter": 0.19},
                           "axis": {"orient": "bottom", "title": null, "ticks": false, "domain": false, "grid": true, "bandPosition": 0, "gridColor": "#a8a8a8", "gridWidth": 2, "gridOpacity": {"condition": {"test": "datum.value == 'Multi S' || datum.value == 'Direct'", "value": 1}, "value": 0}, "labelAngle": 0, "labelFontSize": 18, "labelPadding": 41, "labelColor": "#222", "labelOffset": {"condition": {"test": "datum.value == 'Single S' || datum.value == 'Multi S'", "value": 19.9}, "value": 3}, "labelExpr": "datum.value == 'Single S' ? 'Single' : datum.value == 'Multi S' ? 'Multi' : datum.value == 'Direct' ? 'Direct' : ''"}},
                     "y": {"field": "uw", "type": "quantitative", "scale": {"domain": [-0.1, 2.51], "nice": false, "zero": false}, "axis": null}}},
                  {"mark": {"type": "bar", "width": {"band": 0.8}, "stroke": "#222", "strokeWidth": 1, "clip": true},
                   "encoding": {
                     "y": {"field": "q1", "type": "quantitative", "scale": {"domain": [-0.1, 2.51], "nice": false, "zero": false}, "axis": null},
                     "y2": {"field": "q3"},
                     "color": {"field": "method", "type": "nominal", "scale": {"domain": ["Single S","Single G","Multi S","Multi G","Direct"], "range": ["#FBD431","#45B649","#28AEE3","#5B5AA6","#E8302C"]}, "legend": null}}},
                  {"mark": {"type": "tick", "color": "#000", "thickness": 3, "size": 31.1, "clip": true},
                   "encoding": {"y": {"field": "median", "type": "quantitative", "scale": {"domain": [-0.1, 2.51], "nice": false, "zero": false}, "axis": null}}}
                ],
                "resolve": {"axis": {"x": "independent"}}
              }
            },
            {
              "data": {"name": "kl"},
              "transform": [{"filter": "datum.section == 'B' && datum.cond == '10⁻³'"}],
              "facet": {
                "row": {"field": "row", "type": "ordinal", "header": {"labels": false, "title": null}},
                "column": {"field": "cond", "type": "nominal", "header": {"title": null, "labelFontSize": 18, "labelFontWeight": "bold", "labelPadding": 6}}
              },
              "spacing": {"row": 0, "column": 0},
              "spec": {
                "width": 209, "height": 105,
                "encoding": {"x": {"field": "method", "type": "nominal", "scale": {"domain": ["Single S","Single G","Multi S","Multi G","Direct"], "paddingInner": 0, "paddingOuter": 0.19}, "axis": null}},
                "layer": [
                  {"mark": {"type": "rule", "strokeDash": [4,3], "color": "#444", "clip": true},
                   "encoding": {
                     "x": {"field": "method", "type": "nominal", "scale": {"domain": ["Single S","Single G","Multi S","Multi G","Direct"], "paddingInner": 0, "paddingOuter": 0.19},
                           "axis": {"orient": "bottom", "title": null, "ticks": false, "domain": false, "grid": false, "labelAngle": 0, "labelFontSize": 18, "labelPadding": 12, "labelColor": "#222", "labelExpr": "datum.value == 'Direct' ? '' : (indexof(datum.value, ' S') > 0 ? 'S' : 'G')"}},
                     "y": {"field": "lw", "type": "quantitative", "scale": {"domain": [-0.1, 2.51], "nice": false, "zero": false}, "axis": null},
                     "y2": {"field": "uw"}}},
                  {"mark": {"type": "tick", "color": "#444", "thickness": 1, "size": 19.4, "clip": true},
                   "encoding": {"y": {"field": "lw", "type": "quantitative", "scale": {"domain": [-0.1, 2.51], "nice": false, "zero": false}, "axis": null}}},
                  {"mark": {"type": "tick", "color": "#444", "thickness": 1, "size": 19.4, "clip": true},
                   "encoding": {
                     "x": {"field": "method", "type": "nominal", "scale": {"domain": ["Single S","Single G","Multi S","Multi G","Direct"], "paddingInner": 0, "paddingOuter": 0.19},
                           "axis": {"orient": "bottom", "title": null, "ticks": false, "domain": false, "grid": true, "bandPosition": 0, "gridColor": "#a8a8a8", "gridWidth": 2, "gridOpacity": {"condition": {"test": "datum.value == 'Multi S' || datum.value == 'Direct'", "value": 1}, "value": 0}, "labelAngle": 0, "labelFontSize": 18, "labelPadding": 41, "labelColor": "#222", "labelOffset": {"condition": {"test": "datum.value == 'Single S' || datum.value == 'Multi S'", "value": 19.9}, "value": 4}, "labelExpr": "datum.value == 'Single S' ? 'Single' : datum.value == 'Multi S' ? 'Multi' : datum.value == 'Direct' ? 'Direct' : ''"}},
                     "y": {"field": "uw", "type": "quantitative", "scale": {"domain": [-0.1, 2.51], "nice": false, "zero": false}, "axis": null}}},
                  {"mark": {"type": "bar", "width": {"band": 0.8}, "stroke": "#222", "strokeWidth": 1, "clip": true},
                   "encoding": {
                     "y": {"field": "q1", "type": "quantitative", "scale": {"domain": [-0.1, 2.51], "nice": false, "zero": false}, "axis": null},
                     "y2": {"field": "q3"},
                     "color": {"field": "method", "type": "nominal", "scale": {"domain": ["Single S","Single G","Multi S","Multi G","Direct"], "range": ["#FBD431","#45B649","#28AEE3","#5B5AA6","#E8302C"]}, "legend": null}}},
                  {"mark": {"type": "tick", "color": "#000", "thickness": 3, "size": 31.1, "clip": true},
                   "encoding": {"y": {"field": "median", "type": "quantitative", "scale": {"domain": [-0.1, 2.51], "nice": false, "zero": false}, "axis": null}}}
                ],
                "resolve": {"axis": {"x": "independent"}}
              }
            }
          ]
        },
        {
          "title": {"text": "C", "anchor": "start", "fontSize": 16, "fontWeight": "bold", "offset": -20},
          "spacing": 18,
          "hconcat": [
            {
              "data": {"name": "kl"},
              "transform": [{"filter": "datum.section == 'C' && datum.cond == 'Constant'"}],
              "facet": {
                "row": {"field": "row", "type": "ordinal", "header": {"labels": false, "title": "KL divergence (x10⁻³)", "titleFontSize": 20, "titleFontWeight": "normal", "titlePadding": 7}},
                "column": {"field": "cond", "type": "nominal", "header": {"title": null, "labelFontSize": 18, "labelFontWeight": "bold", "labelPadding": 9}}
              },
              "spacing": {"row": 0, "column": 0},
              "spec": {
                "width": 233, "height": 105,
                "encoding": {"x": {"field": "method", "type": "nominal", "scale": {"domain": ["Single S","Single G","Multi S","Multi G","Direct"], "paddingInner": 0, "paddingOuter": 0.19}, "axis": null}},
                "layer": [
                  {"mark": {"type": "rule", "strokeDash": [4,3], "color": "#444", "clip": true},
                   "encoding": {
                     "x": {"field": "method", "type": "nominal", "scale": {"domain": ["Single S","Single G","Multi S","Multi G","Direct"], "paddingInner": 0, "paddingOuter": 0.19},
                           "axis": {"orient": "bottom", "title": null, "ticks": false, "domain": false, "grid": false, "labelAngle": 0, "labelFontSize": 18, "labelPadding": 12, "labelColor": "#222", "labelExpr": "datum.value == 'Direct' ? '' : (indexof(datum.value, ' S') > 0 ? 'S' : 'G')"}},
                     "y": {"field": "lw", "type": "quantitative", "scale": {"domain": [-0.1, 2.51], "nice": false, "zero": false}, "axis": {"title": null, "values": [0,0.5,1,1.5,2], "format": ".1f", "tickSize": 9, "labelPadding": 10, "labelFontSize": 14, "domain": false, "grid": false, "tickColor": "#333", "labelColor": "#222", "minExtent": 39}},
                     "y2": {"field": "uw"}}},
                  {"mark": {"type": "tick", "color": "#444", "thickness": 1, "size": 21.6, "clip": true},
                   "encoding": {"y": {"field": "lw", "type": "quantitative", "scale": {"domain": [-0.1, 2.51], "nice": false, "zero": false}, "axis": {"title": null, "values": [0,0.5,1,1.5,2], "format": ".1f", "tickSize": 9, "labelPadding": 10, "labelFontSize": 14, "domain": false, "grid": false, "tickColor": "#333", "labelColor": "#222", "minExtent": 39}}}},
                  {"mark": {"type": "tick", "color": "#444", "thickness": 1, "size": 21.6, "clip": true},
                   "encoding": {
                     "x": {"field": "method", "type": "nominal", "scale": {"domain": ["Single S","Single G","Multi S","Multi G","Direct"], "paddingInner": 0, "paddingOuter": 0.19},
                           "axis": {"orient": "bottom", "title": null, "ticks": false, "domain": false, "grid": true, "bandPosition": 0, "gridColor": "#a8a8a8", "gridWidth": 2, "gridOpacity": {"condition": {"test": "datum.value == 'Multi S' || datum.value == 'Direct'", "value": 1}, "value": 0}, "labelAngle": 0, "labelFontSize": 18, "labelPadding": 41, "labelColor": "#222", "labelOffset": {"condition": {"test": "datum.value == 'Single S' || datum.value == 'Multi S'", "value": 21.6}, "value": 0}, "labelExpr": "datum.value == 'Single S' ? 'Single' : datum.value == 'Multi S' ? 'Multi' : datum.value == 'Direct' ? 'Direct' : ''"}},
                     "y": {"field": "uw", "type": "quantitative", "scale": {"domain": [-0.1, 2.51], "nice": false, "zero": false}, "axis": {"title": null, "values": [0,0.5,1,1.5,2], "format": ".1f", "tickSize": 9, "labelPadding": 10, "labelFontSize": 14, "domain": false, "grid": false, "tickColor": "#333", "labelColor": "#222", "minExtent": 39}}}},
                  {"mark": {"type": "bar", "width": {"band": 0.8}, "stroke": "#222", "strokeWidth": 1, "clip": true},
                   "encoding": {
                     "y": {"field": "q1", "type": "quantitative", "scale": {"domain": [-0.1, 2.51], "nice": false, "zero": false}, "axis": {"title": null, "values": [0,0.5,1,1.5,2], "format": ".1f", "tickSize": 9, "labelPadding": 10, "labelFontSize": 14, "domain": false, "grid": false, "tickColor": "#333", "labelColor": "#222", "minExtent": 39}},
                     "y2": {"field": "q3"},
                     "color": {"field": "method", "type": "nominal", "scale": {"domain": ["Single S","Single G","Multi S","Multi G","Direct"], "range": ["#FBD431","#45B649","#28AEE3","#5B5AA6","#E8302C"]}, "legend": null}}},
                  {"mark": {"type": "tick", "color": "#000", "thickness": 3, "size": 34.6, "clip": true},
                   "encoding": {"y": {"field": "median", "type": "quantitative", "scale": {"domain": [-0.1, 2.51], "nice": false, "zero": false}, "axis": {"title": null, "values": [0,0.5,1,1.5,2], "format": ".1f", "tickSize": 9, "labelPadding": 10, "labelFontSize": 14, "domain": false, "grid": false, "tickColor": "#333", "labelColor": "#222", "minExtent": 39}}}}
                ],
                "resolve": {"axis": {"x": "independent"}}
              }
            },
            {
              "data": {"name": "kl"},
              "transform": [{"filter": "datum.section == 'C' && datum.cond == 'Growth'"}],
              "facet": {
                "row": {"field": "row", "type": "ordinal", "header": {"labels": false, "title": null}},
                "column": {"field": "cond", "type": "nominal", "header": {"title": null, "labelFontSize": 18, "labelFontWeight": "bold", "labelPadding": 9}}
              },
              "spacing": {"row": 0, "column": 0},
              "spec": {
                "width": 209, "height": 105,
                "encoding": {"x": {"field": "method", "type": "nominal", "scale": {"domain": ["Single S","Single G","Multi S","Multi G","Direct"], "paddingInner": 0, "paddingOuter": 0.19}, "axis": null}},
                "layer": [
                  {"mark": {"type": "rule", "strokeDash": [4,3], "color": "#444", "clip": true},
                   "encoding": {
                     "x": {"field": "method", "type": "nominal", "scale": {"domain": ["Single S","Single G","Multi S","Multi G","Direct"], "paddingInner": 0, "paddingOuter": 0.19},
                           "axis": {"orient": "bottom", "title": null, "ticks": false, "domain": false, "grid": false, "labelAngle": 0, "labelFontSize": 18, "labelPadding": 12, "labelColor": "#222", "labelExpr": "datum.value == 'Direct' ? '' : (indexof(datum.value, ' S') > 0 ? 'S' : 'G')"}},
                     "y": {"field": "lw", "type": "quantitative", "scale": {"domain": [-0.1, 2.51], "nice": false, "zero": false}, "axis": null},
                     "y2": {"field": "uw"}}},
                  {"mark": {"type": "tick", "color": "#444", "thickness": 1, "size": 19.4, "clip": true},
                   "encoding": {"y": {"field": "lw", "type": "quantitative", "scale": {"domain": [-0.1, 2.51], "nice": false, "zero": false}, "axis": null}}},
                  {"mark": {"type": "tick", "color": "#444", "thickness": 1, "size": 19.4, "clip": true},
                   "encoding": {
                     "x": {"field": "method", "type": "nominal", "scale": {"domain": ["Single S","Single G","Multi S","Multi G","Direct"], "paddingInner": 0, "paddingOuter": 0.19},
                           "axis": {"orient": "bottom", "title": null, "ticks": false, "domain": false, "grid": true, "bandPosition": 0, "gridColor": "#a8a8a8", "gridWidth": 2, "gridOpacity": {"condition": {"test": "datum.value == 'Multi S' || datum.value == 'Direct'", "value": 1}, "value": 0}, "labelAngle": 0, "labelFontSize": 18, "labelPadding": 41, "labelColor": "#222", "labelOffset": {"condition": {"test": "datum.value == 'Single S' || datum.value == 'Multi S'", "value": 19.9}, "value": 3}, "labelExpr": "datum.value == 'Single S' ? 'Single' : datum.value == 'Multi S' ? 'Multi' : datum.value == 'Direct' ? 'Direct' : ''"}},
                     "y": {"field": "uw", "type": "quantitative", "scale": {"domain": [-0.1, 2.51], "nice": false, "zero": false}, "axis": null}}},
                  {"mark": {"type": "bar", "width": {"band": 0.8}, "stroke": "#222", "strokeWidth": 1, "clip": true},
                   "encoding": {
                     "y": {"field": "q1", "type": "quantitative", "scale": {"domain": [-0.1, 2.51], "nice": false, "zero": false}, "axis": null},
                     "y2": {"field": "q3"},
                     "color": {"field": "method", "type": "nominal", "scale": {"domain": ["Single S","Single G","Multi S","Multi G","Direct"], "range": ["#FBD431","#45B649","#28AEE3","#5B5AA6","#E8302C"]}, "legend": null}}},
                  {"mark": {"type": "tick", "color": "#000", "thickness": 3, "size": 31.1, "clip": true},
                   "encoding": {"y": {"field": "median", "type": "quantitative", "scale": {"domain": [-0.1, 2.51], "nice": false, "zero": false}, "axis": null}}}
                ],
                "resolve": {"axis": {"x": "independent"}}
              }
            },
            {
              "data": {"name": "kl"},
              "transform": [{"filter": "datum.section == 'C' && datum.cond == 'Decline'"}],
              "facet": {
                "row": {"field": "row", "type": "ordinal", "header": {"labels": false, "title": null}},
                "column": {"field": "cond", "type": "nominal", "header": {"title": null, "labelFontSize": 18, "labelFontWeight": "bold", "labelPadding": 9}}
              },
              "spacing": {"row": 0, "column": 0},
              "spec": {
                "width": 209, "height": 105,
                "encoding": {"x": {"field": "method", "type": "nominal", "scale": {"domain": ["Single S","Single G","Multi S","Multi G","Direct"], "paddingInner": 0, "paddingOuter": 0.19}, "axis": null}},
                "layer": [
                  {"mark": {"type": "rule", "strokeDash": [4,3], "color": "#444", "clip": true},
                   "encoding": {
                     "x": {"field": "method", "type": "nominal", "scale": {"domain": ["Single S","Single G","Multi S","Multi G","Direct"], "paddingInner": 0, "paddingOuter": 0.19},
                           "axis": {"orient": "bottom", "title": null, "ticks": false, "domain": false, "grid": false, "labelAngle": 0, "labelFontSize": 18, "labelPadding": 12, "labelColor": "#222", "labelExpr": "datum.value == 'Direct' ? '' : (indexof(datum.value, ' S') > 0 ? 'S' : 'G')"}},
                     "y": {"field": "lw", "type": "quantitative", "scale": {"domain": [-0.1, 2.51], "nice": false, "zero": false}, "axis": null},
                     "y2": {"field": "uw"}}},
                  {"mark": {"type": "tick", "color": "#444", "thickness": 1, "size": 19.4, "clip": true},
                   "encoding": {"y": {"field": "lw", "type": "quantitative", "scale": {"domain": [-0.1, 2.51], "nice": false, "zero": false}, "axis": null}}},
                  {"mark": {"type": "tick", "color": "#444", "thickness": 1, "size": 19.4, "clip": true},
                   "encoding": {
                     "x": {"field": "method", "type": "nominal", "scale": {"domain": ["Single S","Single G","Multi S","Multi G","Direct"], "paddingInner": 0, "paddingOuter": 0.19},
                           "axis": {"orient": "bottom", "title": null, "ticks": false, "domain": false, "grid": true, "bandPosition": 0, "gridColor": "#a8a8a8", "gridWidth": 2, "gridOpacity": {"condition": {"test": "datum.value == 'Multi S' || datum.value == 'Direct'", "value": 1}, "value": 0}, "labelAngle": 0, "labelFontSize": 18, "labelPadding": 41, "labelColor": "#222", "labelOffset": {"condition": {"test": "datum.value == 'Single S' || datum.value == 'Multi S'", "value": 19.9}, "value": 4}, "labelExpr": "datum.value == 'Single S' ? 'Single' : datum.value == 'Multi S' ? 'Multi' : datum.value == 'Direct' ? 'Direct' : ''"}},
                     "y": {"field": "uw", "type": "quantitative", "scale": {"domain": [-0.1, 2.51], "nice": false, "zero": false}, "axis": null}}},
                  {"mark": {"type": "bar", "width": {"band": 0.8}, "stroke": "#222", "strokeWidth": 1, "clip": true},
                   "encoding": {
                     "y": {"field": "q1", "type": "quantitative", "scale": {"domain": [-0.1, 2.51], "nice": false, "zero": false}, "axis": null},
                     "y2": {"field": "q3"},
                     "color": {"field": "method", "type": "nominal", "scale": {"domain": ["Single S","Single G","Multi S","Multi G","Direct"], "range": ["#FBD431","#45B649","#28AEE3","#5B5AA6","#E8302C"]}, "legend": null}}},
                  {"mark": {"type": "tick", "color": "#000", "thickness": 3, "size": 31.1, "clip": true},
                   "encoding": {"y": {"field": "median", "type": "quantitative", "scale": {"domain": [-0.1, 2.51], "nice": false, "zero": false}, "axis": null}}}
                ],
                "resolve": {"axis": {"x": "independent"}}
              }
            }
          ]
        }
      ]
    }
  ]
}
